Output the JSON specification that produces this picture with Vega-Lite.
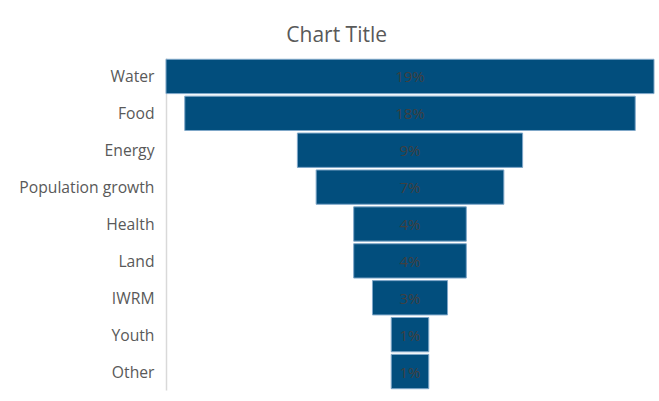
{
  "$schema": "https://vega.github.io/schema/vega-lite/v6.json",
  "autosize": {"type": "none"},
  "padding": {"left": 166, "top": 58, "right": 5, "bottom": 11},
  "width": 488,
  "height": 332,
  "background": "white",
  "title": {
    "text": "Chart Title",
    "frame": "bounds",
    "anchor": "middle",
    "font": "Open Sans",
    "fontSize": 21,
    "fontWeight": "normal",
    "color": "#595959",
    "baseline": "alphabetic",
    "offset": -5
  },
  "data": {
    "values": [
      {"category": "Water", "value": 13, "label": "19%"},
      {"category": "Food", "value": 12, "label": "18%"},
      {"category": "Energy", "value": 6, "label": "9%"},
      {"category": "Population growth", "value": 5, "label": "7%"},
      {"category": "Health", "value": 3, "label": "4%"},
      {"category": "Land", "value": 3, "label": "4%"},
      {"category": "IWRM", "value": 2, "label": "3%"},
      {"category": "Youth", "value": 1, "label": "1%"},
      {"category": "Other", "value": 1, "label": "1%"}
    ]
  },
  "encoding": {
    "y": {
      "field": "category",
      "type": "nominal",
      "sort": null,
      "scale": {"paddingInner": 0.07, "paddingOuter": 0.035},
      "axis": {
        "title": null,
        "ticks": false,
        "grid": false,
        "domainColor": "#d9d9d9",
        "domainWidth": 1.5,
        "labelFont": "Open Sans",
        "labelFontSize": 15.7,
        "labelColor": "#595959",
        "labelPadding": 12,
        "labelOffset": 1
      }
    }
  },
  "layer": [
    {
      "mark": {"type": "bar", "color": "#024e7d", "stroke": "#7fa7c9", "strokeWidth": 1},
      "encoding": {
        "x": {
          "field": "value",
          "type": "quantitative",
          "stack": "center",
          "scale": {"domain": [0, 13], "nice": false, "zero": true},
          "axis": null
        }
      }
    },
    {
      "mark": {"type": "text", "font": "Open Sans", "fontSize": 15, "color": "#404040", "baseline": "middle", "align": "center", "dy": 1},
      "encoding": {
        "x": {"datum": 6.5, "type": "quantitative"},
        "text": {"field": "label"}
      }
    }
  ],
  "config": {"view": {"stroke": null}}
}
